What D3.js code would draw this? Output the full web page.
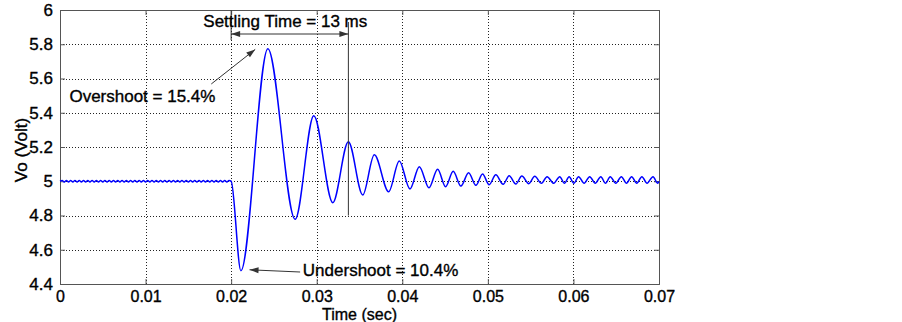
<html>
<head>
<script src="https://d3js.org/d3.v7.min.js"></script>
<style>
  body { margin: 0; background: #fff; }
  text { font-family: "Liberation Sans", Arial, sans-serif; }
</style>
</head>
<body>
<script>
  // ripple before the load step (extrema)
  const preTime = [0, 0.00025, 0.0005, 0.00075, 0.001, 0.00125, 0.0015, 0.00175, 0.002, 0.00225,
    0.0025, 0.00275, 0.003, 0.00325, 0.0035, 0.00375, 0.004, 0.00425, 0.0045, 0.00475,
    0.005, 0.00525, 0.0055, 0.00575, 0.006, 0.00625, 0.0065, 0.00675, 0.007, 0.00725,
    0.0075, 0.00775, 0.008, 0.00825, 0.0085, 0.00875, 0.009, 0.00925, 0.0095, 0.00975,
    0.01, 0.01025, 0.0105, 0.01075, 0.011, 0.01125, 0.0115, 0.01175, 0.012, 0.01225,
    0.0125, 0.01275, 0.013, 0.01325, 0.0135, 0.01375, 0.014, 0.01425, 0.0145, 0.01475,
    0.015, 0.01525, 0.0155, 0.01575, 0.016, 0.01625, 0.0165, 0.01675, 0.017, 0.01725,
    0.0175, 0.01775, 0.018, 0.01825, 0.0185, 0.01875, 0.019, 0.01925, 0.0195, 0.01975];
  const preVolt = [5.0, 5.004, 4.996, 5.004, 4.996, 5.004, 4.996, 5.004, 4.996, 5.004,
    4.996, 5.004, 4.996, 5.004, 4.996, 5.004, 4.996, 5.004, 4.996, 5.004,
    4.996, 5.004, 4.996, 5.004, 4.996, 5.004, 4.996, 5.004, 4.996, 5.004,
    4.996, 5.004, 4.996, 5.004, 4.996, 5.004, 4.996, 5.004, 4.996, 5.004,
    4.996, 5.004, 4.996, 5.004, 4.996, 5.004, 4.996, 5.004, 4.996, 5.004,
    4.996, 5.004, 4.996, 5.004, 4.996, 5.004, 4.996, 5.004, 4.996, 5.004,
    4.996, 5.004, 4.996, 5.004, 4.996, 5.004, 4.996, 5.004, 4.996, 5.004,
    4.996, 5.004, 4.996, 5.004, 4.996, 5.004, 4.996, 5.004, 4.996, 5.004];

  // transient after the step (peaks and troughs)
  const stepTime = [0.02, 0.02114, 0.02429, 0.02748, 0.02966, 0.03188, 0.0337, 0.03538, 0.03673,
    0.03841, 0.03965, 0.0409, 0.04199, 0.04312, 0.04413, 0.04506, 0.04595, 0.04685, 0.04775,
    0.0486, 0.04938, 0.05015, 0.05093, 0.05179, 0.05249, 0.05327, 0.05397, 0.05479, 0.05548,
    0.05627, 0.05692, 0.0577, 0.0584, 0.05895, 0.0595, 0.06005, 0.0606, 0.06125, 0.0619,
    0.06255, 0.0632, 0.06375, 0.0643, 0.06495, 0.0656, 0.0662, 0.0668, 0.0674, 0.068,
    0.0686, 0.0693, 0.06985, 0.07];
  const stepVolt = [5.0, 4.478, 5.774, 4.778, 5.383, 4.875, 5.231, 4.92, 5.155,
    4.939, 5.118, 4.955, 5.085, 4.962, 5.07, 4.968, 5.058, 4.972, 5.05,
    4.976, 5.042, 4.98, 5.038, 4.982, 5.032, 4.984, 5.031, 4.986, 5.029,
    4.988, 5.027, 4.988, 5.027, 4.988, 5.027, 4.988, 5.027, 4.988, 5.027,
    4.988, 5.027, 4.988, 5.027, 4.988, 5.027, 4.988, 5.027, 4.988, 5.027,
    4.988, 5.027, 4.988, 5.0];

  const xTicks = [0, 0.01, 0.02, 0.03, 0.04, 0.05, 0.06, 0.07];
  const xTickLabels = ["0", "0.01", "0.02", "0.03", "0.04", "0.05", "0.06", "0.07"];
  const yTicks = [4.4, 4.6, 4.8, 5, 5.2, 5.4, 5.6, 5.8, 6];
  const yTickLabels = ["4.4", "4.6", "4.8", "5", "5.2", "5.4", "5.6", "5.8", "6"];

  const W = 902, H = 322;
  const pLeft = 60, pRight = 659, pTop = 10, pBottom = 284;

  const svg = d3.select("body").append("svg")
      .attr("width", W)
      .attr("height", H);

  const x = d3.scaleLinear().domain([0, 0.07]).range([pLeft, pRight]);
  const y = d3.scaleLinear().domain([4.4, 6]).range([pBottom, pTop]);

  // dotted grid
  svg.append("g").selectAll("line")
    .data(xTicks.slice(1, -1))
    .join("line")
      .attr("x1", d => Math.round(x(d)) + 0.5).attr("x2", d => Math.round(x(d)) + 0.5)
      .attr("y1", pTop).attr("y2", pBottom)
      .attr("stroke", "#222").attr("stroke-dasharray", "1,2");
  svg.append("g").selectAll("line")
    .data(yTicks.slice(1, -1))
    .join("line")
      .attr("x1", pLeft).attr("x2", pRight)
      .attr("y1", d => Math.round(y(d)) + 0.5).attr("y2", d => Math.round(y(d)) + 0.5)
      .attr("stroke", "#222").attr("stroke-dasharray", "1,2");

  // axes, ticks inside like matlab
  const fmtX = (d, i) => xTickLabels[i];
  const fmtY = (d, i) => yTickLabels[i];
  const xAxis = svg.append("g").attr("transform", `translate(0,${pBottom})`)
      .call(d3.axisBottom(x).tickValues(xTicks).tickFormat(fmtX).tickSize(-5).tickPadding(7));
  const axes = [
    xAxis,
    svg.append("g").attr("transform", `translate(0,${pTop})`)
      .call(d3.axisTop(x).tickValues(xTicks).tickFormat("").tickSize(-5)),
    svg.append("g").attr("transform", `translate(${pLeft},0)`)
      .call(d3.axisLeft(y).tickValues(yTicks).tickFormat(fmtY).tickSize(-5).tickPadding(7)),
    svg.append("g").attr("transform", `translate(${pRight},0)`)
      .call(d3.axisRight(y).tickValues(yTicks).tickFormat("").tickSize(-5))
  ];
  axes.forEach(g => {
    g.select(".domain").attr("stroke", "#555");
    g.selectAll(".tick line").attr("stroke", "#555");
    g.selectAll("text").attr("font-size", 17).attr("fill", "#000")
      .attr("stroke", "#000").attr("stroke-width", 0.35)
      .attr("font-family", "Liberation Sans, Arial, sans-serif");
  });
  xAxis.selectAll("text").attr("font-size", 16);

  // trace
  const pts = preTime.map((t, i) => [t, preVolt[i]])
    .concat(stepTime.map((t, i) => [t, stepVolt[i]]));
  const line = d3.line()
      .x(d => x(d[0]))
      .y(d => y(d[1]))
      .curve(d3.curveMonotoneX);
  svg.append("path")
    .datum(pts)
    .attr("d", line)
    .attr("fill", "none")
    .attr("stroke", "#0000ff")
    .attr("stroke-width", 1.5);

  // text helper, slightly heavier like the bitmap original
  function label(sel) {
    return sel.attr("font-size", 17).attr("fill", "#000")
      .attr("stroke", "#000").attr("stroke-width", 0.35);
  }

  // axis labels
  label(svg.append("text"))
    .attr("x", x(0.035)).attr("y", 319.5)
    .attr("font-size", 16)
    .attr("text-anchor", "middle")
    .text("Time (sec)");
  label(svg.append("text"))
    .attr("transform", "translate(27,150) rotate(-90)")
    .attr("text-anchor", "middle")
    .text("Vo (Volt)");

  // annotations
  const ann = "#333";
  function arrowHead(tipX, tipY, fromX, fromY) {
    const a = Math.atan2(tipY - fromY, tipX - fromX);
    const len = 9, w = 3;
    const bx = tipX - len * Math.cos(a), by = tipY - len * Math.sin(a);
    const px = -Math.sin(a) * w, py = Math.cos(a) * w;
    svg.append("path")
      .attr("d", `M${tipX},${tipY}L${bx + px},${by + py}L${bx - px},${by - py}Z`)
      .attr("fill", ann);
  }
  function arrow(x1, y1, x2, y2) {
    svg.append("line").attr("x1", x1).attr("y1", y1).attr("x2", x2).attr("y2", y2)
      .attr("stroke", ann).attr("stroke-width", 1);
    arrowHead(x2, y2, x1, y1);
  }

  // settling time
  const tS0 = 0.02, tS1 = 0.0337;
  svg.append("line")
    .attr("x1", x(tS0)).attr("x2", x(tS0)).attr("y1", pTop).attr("y2", 40)
    .attr("stroke", ann);
  svg.append("line")
    .attr("x1", x(tS1)).attr("x2", x(tS1)).attr("y1", 22).attr("y2", y(4.8))
    .attr("stroke", ann);
  svg.append("line")
    .attr("x1", x(tS0)).attr("x2", x(tS1)).attr("y1", 34).attr("y2", 34)
    .attr("stroke", ann);
  arrowHead(x(tS0), 34, x(tS1), 34);
  arrowHead(x(tS1), 34, x(tS0), 34);
  label(svg.append("text"))
    .attr("x", x(0.01675)).attr("y", 27)
    .text("Settling Time = 13 ms");

  // overshoot
  arrow(x(0.01768), y(5.568), x(0.02281), y(5.77));
  label(svg.append("text"))
    .attr("x", x(0.0011)).attr("y", 102)
    .text("Overshoot = 15.4%");

  // undershoot
  arrow(x(0.02806), y(4.47), x(0.02215), y(4.483));
  label(svg.append("text"))
    .attr("x", x(0.02838)).attr("y", 276)
    .text("Undershoot = 10.4%");
</script>
</body>
</html>
